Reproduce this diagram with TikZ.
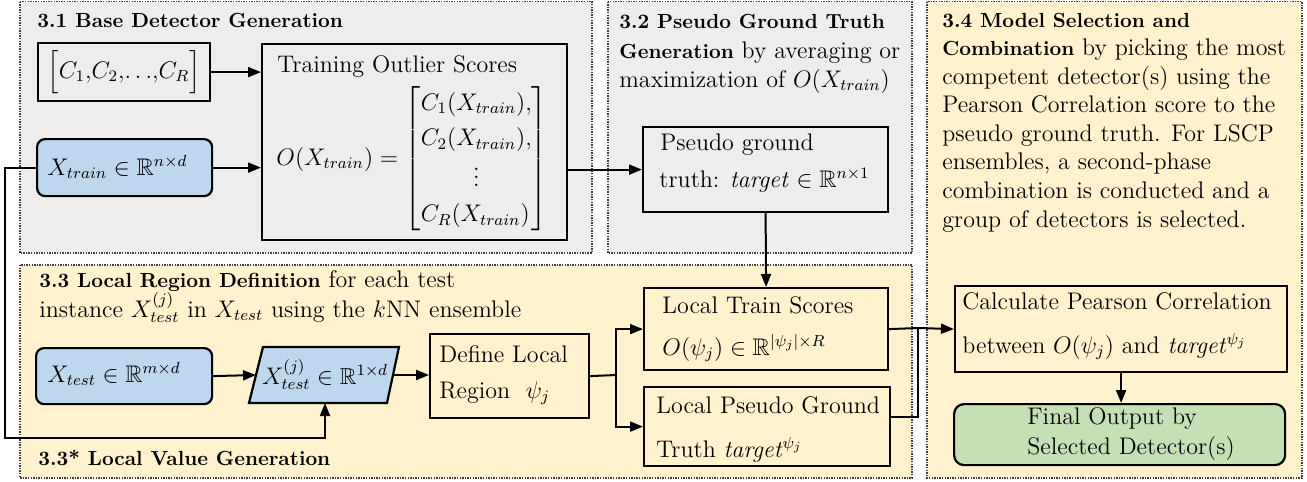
\documentclass[tikz,border=0pt]{standalone}
\usepackage{amsmath,amssymb}
\usetikzlibrary{arrows.meta}
\definecolor{panelgray}{HTML}{EDEDED}
\definecolor{panelcream}{HTML}{FFF2CC}
\definecolor{boxblue}{HTML}{BDD7EE}
\definecolor{boxgreen}{HTML}{C5E0B4}
\newcommand\rgf{\fontsize{12}{14.5}\selectfont}
\newcommand\bdf{\fontsize{10.2}{14.5}\selectfont\bfseries}
\begin{document}
\begin{tikzpicture}[x=0.5pt,y=-0.5pt,
  panel/.style={draw=black!75, line width=0.75pt, dash pattern=on 0.7pt off 0.6pt},
  box/.style={draw=black, line width=1.1pt, inner sep=0pt, anchor=north west, font=\rgf},
  txt/.style={inner sep=0pt, anchor=base west, font=\rgf},
  wire/.style={line width=1pt},
  conn/.style={line width=1pt, -{Triangle[length=6.5pt,width=5pt]}}]
\useasboundingbox (0,0) rectangle (1307,482);
% panels
\draw[panel, fill=panelgray] (20,1.5) rectangle (592,253);
\draw[panel, fill=panelgray] (608,1.5) rectangle (912,253);
\draw[panel, fill=panelcream] (927,1.5) rectangle (1302,478);
\draw[panel, fill=panelcream] (20,265) rectangle (912,478);
% headers
\node[txt] (h31) at (37,27) {\bdf 3.1 Base Detector Generation};
\node[txt] (h32a) at (619,28) {\bdf 3.2 Pseudo Ground Truth};
\node[txt] (h32b) at (619,58) {{\bdf Generation} by averaging or};
\node[txt] (h32c) at (619,87) {maximization of $O(X_{train})$};
\node[txt] (h34a) at (942,27) {\bdf 3.4 Model Selection and};
\node[txt] (h34b) at (942,55.6) {{\bdf Combination} by picking the most};
\node[txt] (h34c) at (942,84.1) {competent detector(s) using the};
\node[txt] (h34d) at (942,112.7) {Pearson Correlation score to the};
\node[txt] (h34e) at (942,141.3) {pseudo ground truth. For LSCP};
\node[txt] (h34f) at (942,169.9) {ensembles, a second-phase};
\node[txt] (h34g) at (942,198.4) {combination is conducted and a};
\node[txt] (h34h) at (942,227) {group of detectors is selected.};
\node[txt] (h33a) at (39,287) {{\bdf 3.3 Local Region Definition} for each test};
\node[txt] (h33b) at (39,317) {instance $X_{test}^{(j)}$ in $X_{test}$ using the $k$NN ensemble};
\node[txt] (h33s) at (38,465) {\bdf 3.3* Local Value Generation};
% boxes
\node[box, minimum width=86pt, minimum height=29pt] (cs) at (37,42) {$\Bigl[C_1{,}C_2{,}{\ldots}{,}C_R\Bigr]$};
\node[box, fill=boxblue, rounded corners=4pt, minimum width=87.5pt, minimum height=28.5pt] (xtr) at (36,138) {};
\node[txt] (xtrt) at (47,175) {$X_{train}\in\mathbb{R}^{n\times d}$};
\node[box, minimum width=152.5pt, minimum height=98pt] (tos) at (261,43) {};
\node[txt] (tost) at (277,72) {Training Outlier Scores};
\node[txt, anchor=west] (toseq) at (276,159) {\def\arraystretch{1.22}$O(X_{train}) = \left[\begin{array}{@{}l@{}}C_1(X_{train}),\\ C_2(X_{train}),\\ \multicolumn{1}{@{}c@{}}{\vdots}\\ C_R(X_{train})\end{array}\right]$};
\node[box, minimum width=122.5pt, minimum height=42.5pt] (pg) at (642,126) {};
\node[txt] (pga) at (660,150) {Pseudo ground};
\node[txt] (pgb) at (659,187) {truth: \textit{target} $\in\mathbb{R}^{n\times 1}$};
\node[box, fill=boxblue, rounded corners=4pt, minimum width=88pt, minimum height=28pt] (xts) at (35,347) {};
\node[txt] (xtst) at (47,382) {$X_{test}\in\mathbb{R}^{m\times d}$};
\draw[fill=boxblue, line width=1.1pt, line join=miter] (263,347) -- (399,347) -- (387,403) -- (249,403) -- cycle;
\coordinate (xtsjw) at (256,375);
\coordinate (xtsje) at (393,375);
\coordinate (xtsjs) at (325,403);
\node[txt, anchor=base] (xtsjt) at (325,384) {\fontsize{11.5}{14}\selectfont$X_{test}^{(j)}\in\mathbb{R}^{1\times d}$};
\node[box, minimum width=79.5pt, minimum height=42pt] (dlr) at (429,333) {};
\node[txt] (dlra) at (439,362) {Define Local};
\node[txt] (dlrb) at (439,398) {Region\ \ $\psi_j$};
\node[box, minimum width=122pt, minimum height=41pt] (lts) at (643,287) {};
\node[txt] (ltsa) at (662,313) {Local Train Scores};
\node[txt] (ltsb) at (662,355) {$O(\psi_j)\in\mathbb{R}^{|\psi_j|\times R}$};
\node[box, minimum width=123pt, minimum height=39.5pt] (lpgt) at (643,386) {};
\node[txt] (lpgta) at (656,413) {Local Pseudo Ground};
\node[txt] (lpgtb) at (656,457) {Truth \textit{target}$^{\psi_j}$};
\node[box, minimum width=166pt, minimum height=43pt] (calc) at (954,285) {};
\node[txt] (calca) at (962,309) {Calculate Pearson Correlation};
\node[txt] (calcb) at (962,353) {between $O(\psi_j)$ and \textit{target}$^{\psi_j}$};
\node[box, fill=boxgreen, rounded corners=5pt, minimum width=165.5pt, minimum height=30.5pt] (fin) at (953,403) {};
\node[txt] (fina) at (1027,424) {Final Output by};
\node[txt] (finb) at (1027,454) {Selected Detector(s)};
% connectors
\draw[conn] (cs.east) -- (cs.east -| tos.west);
\draw[conn] (xtr.east) -- (xtr.east -| tos.west);
\draw[conn] (tos.east |- pg.west) -- (pg.west);
\draw[conn] (pg.south) -- (lts.north);
\draw[conn] (xts.east) -- (xtsjw);
\draw[conn] (xtsje) -- (xtsje -| dlr.west);
\coordinate (br) at (616,375);
\draw[wire] (dlr.east) -- (br);
\draw[conn] (br) |- (lts.west);
\draw[conn] (br) |- (lpgt.west);
\coordinate (mg) at (918,328);
\draw[wire] (lts.east) -- (mg);
\draw[wire] ([yshift=4.75pt]lpgt.east) -| (mg);
\draw[conn] (mg) -- (calc.west);
\draw[conn] (calc.south) -- (calc.south |- fin.north);
\coordinate (lp) at (5,438);
\draw[conn] (xtr.west) -| (lp) -| (xtsjs);
\end{tikzpicture}
\end{document}
